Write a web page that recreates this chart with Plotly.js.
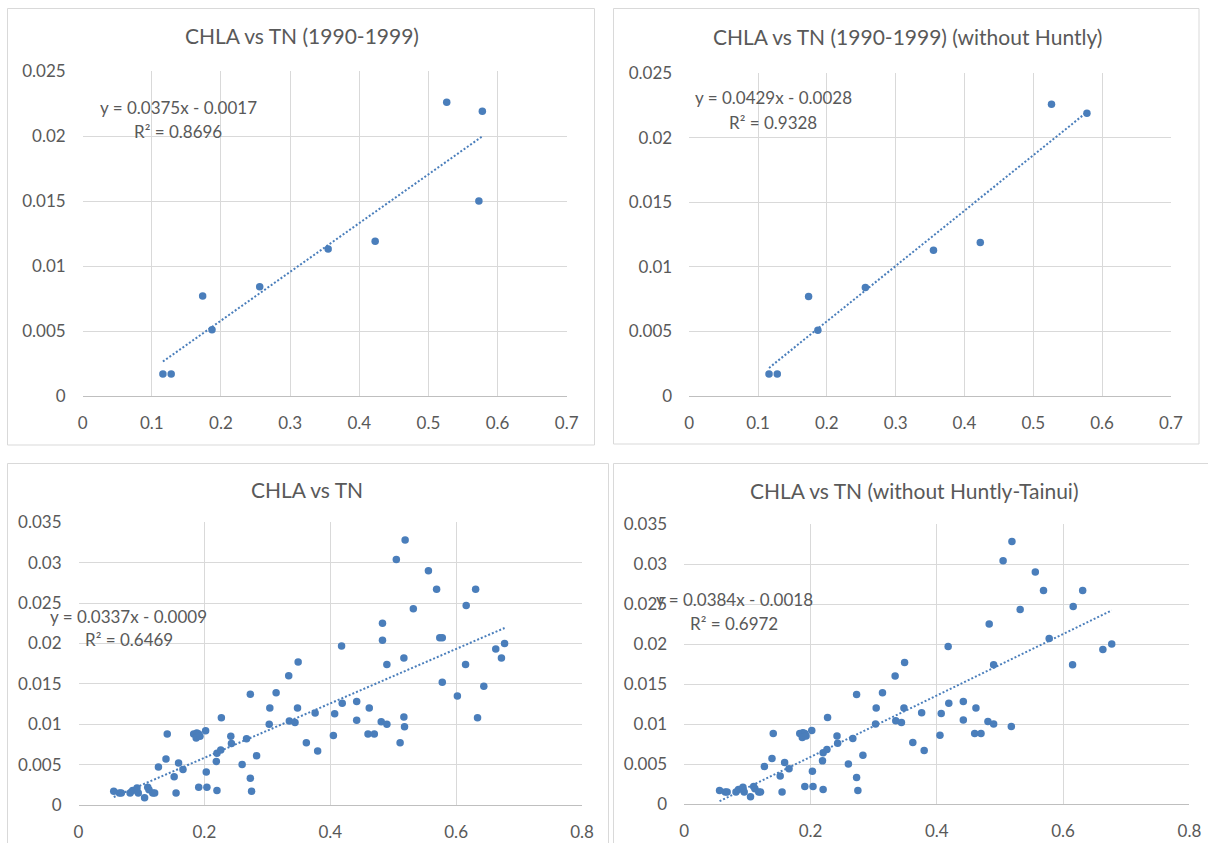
<!DOCTYPE html>
<html>
<head>
<meta charset="utf-8">
<script src="https://cdn.plot.ly/plotly-3.0.1.min.js"></script>
<style>
  html, body { margin: 0; padding: 0; background: #ffffff; }
  #chart { width: 1208px; height: 843px; }
</style>
</head>
<body>
<div id="chart"></div>
<script>
// ---------- DATA ----------
const titles = [
  "CHLA vs TN (1990-1999)",
  "CHLA vs TN (1990-1999) (without Huntly)",
  "CHLA vs TN",
  "CHLA vs TN (without Huntly-Tainui)"
];

// Chart 1: CHLA vs TN (1990-1999)
const tn9099 = [0.116, 0.128, 0.1735, 0.187, 0.256, 0.355, 0.423, 0.5265, 0.578, 0.573];
const chla9099 = [0.0017, 0.0017, 0.0077, 0.0051, 0.0084, 0.0113, 0.0119, 0.0226, 0.0219, 0.0150];

// Chart 2: CHLA vs TN (1990-1999) (without Huntly)
const tn9099NoHuntly = [0.116, 0.128, 0.1735, 0.187, 0.256, 0.355, 0.423, 0.5265, 0.578];
const chla9099NoHuntly = [0.0017, 0.0017, 0.0077, 0.0051, 0.0084, 0.0113, 0.0119, 0.0226, 0.0219];

// Chart 3: CHLA vs TN (all)
const tnAll = [
  0.056, 0.065, 0.068, 0.082, 0.086, 0.093, 0.095, 0.105, 0.110, 0.112,
  0.118, 0.121, 0.127, 0.139, 0.141, 0.152, 0.155, 0.159, 0.166, 0.183,
  0.188, 0.191, 0.187, 0.193, 0.191, 0.202, 0.203, 0.204, 0.219, 0.220,
  0.220, 0.226, 0.227, 0.242, 0.243, 0.260, 0.267, 0.273, 0.273, 0.275,
  0.283, 0.303, 0.304, 0.314, 0.334, 0.335, 0.344, 0.349, 0.348, 0.362,
  0.376, 0.380, 0.405, 0.407, 0.418, 0.419, 0.442, 0.442, 0.462, 0.460,
  0.470, 0.481, 0.483, 0.483, 0.490, 0.490, 0.519, 0.505, 0.556, 0.569,
  0.631, 0.532, 0.616, 0.574, 0.578, 0.517, 0.677, 0.663, 0.672, 0.615,
  0.578, 0.644, 0.602, 0.517, 0.518, 0.511, 0.634
];
const chlaAll = [
  0.0017, 0.0015, 0.0015, 0.0015, 0.0018, 0.0021, 0.0015, 0.0009, 0.0022, 0.0019,
  0.0015, 0.0015, 0.0047, 0.0057, 0.0088, 0.0035, 0.0015, 0.0052, 0.0044, 0.0088,
  0.0089, 0.0088, 0.0083, 0.0085, 0.0022, 0.0092, 0.0041, 0.0022, 0.0054, 0.0018,
  0.0064, 0.0068, 0.0108, 0.0085, 0.0076, 0.0050, 0.0082, 0.0137, 0.0033, 0.0017,
  0.0061, 0.0100, 0.0120, 0.0139, 0.0160, 0.0104, 0.0102, 0.0177, 0.0120, 0.0077,
  0.0114, 0.0067, 0.0086, 0.0113, 0.0197, 0.0126, 0.0128, 0.0105, 0.0120, 0.0088,
  0.0088, 0.0103, 0.0225, 0.0204, 0.0174, 0.0100, 0.0328, 0.0304, 0.0290, 0.0267,
  0.0267, 0.0243, 0.0247, 0.0207, 0.0207, 0.0182, 0.0200, 0.0193, 0.0182, 0.0174,
  0.0152, 0.0147, 0.0135, 0.0109, 0.0097, 0.0077, 0.0108
];

// Chart 4: CHLA vs TN (without Huntly-Tainui)
const tnNoHT = [
  0.056, 0.065, 0.068, 0.082, 0.086, 0.093, 0.095, 0.105, 0.110, 0.112,
  0.118, 0.121, 0.127, 0.139, 0.141, 0.152, 0.155, 0.159, 0.166, 0.183,
  0.188, 0.191, 0.187, 0.193, 0.191, 0.202, 0.203, 0.204, 0.219, 0.220,
  0.220, 0.226, 0.227, 0.242, 0.243, 0.260, 0.267, 0.273, 0.273, 0.275,
  0.283, 0.303, 0.304, 0.314, 0.334, 0.335, 0.344, 0.349, 0.348, 0.362,
  0.376, 0.380, 0.405, 0.407, 0.418, 0.419, 0.442, 0.442, 0.462, 0.460,
  0.470, 0.481, 0.483, 0.490, 0.490, 0.519, 0.505, 0.556, 0.569, 0.631,
  0.532, 0.616, 0.578, 0.677, 0.663, 0.615, 0.518
];
const chlaNoHT = [
  0.0017, 0.0015, 0.0015, 0.0015, 0.0018, 0.0021, 0.0015, 0.0009, 0.0022, 0.0019,
  0.0015, 0.0015, 0.0047, 0.0057, 0.0088, 0.0035, 0.0015, 0.0052, 0.0044, 0.0088,
  0.0089, 0.0088, 0.0083, 0.0085, 0.0022, 0.0092, 0.0041, 0.0022, 0.0054, 0.0018,
  0.0064, 0.0068, 0.0108, 0.0085, 0.0076, 0.0050, 0.0082, 0.0137, 0.0033, 0.0017,
  0.0061, 0.0100, 0.0120, 0.0139, 0.0160, 0.0104, 0.0102, 0.0177, 0.0120, 0.0077,
  0.0114, 0.0067, 0.0086, 0.0113, 0.0197, 0.0126, 0.0128, 0.0105, 0.0120, 0.0088,
  0.0088, 0.0103, 0.0225, 0.0174, 0.0100, 0.0328, 0.0304, 0.0290, 0.0267, 0.0267,
  0.0243, 0.0247, 0.0207, 0.0200, 0.0193, 0.0174, 0.0097
];

// Linear trendlines (from the equations shown)
const slopes = [0.0375, 0.0429, 0.0337, 0.0384];
const intercepts = [-0.0017, -0.0028, -0.0009, -0.0018];
const eqTexts = ["y = 0.0375x - 0.0017", "y = 0.0429x - 0.0028", "y = 0.0337x - 0.0009", "y = 0.0384x - 0.0018"];
const r2Texts = ["R² = 0.8696", "R² = 0.9328", "R² = 0.6469", "R² = 0.6972"];

// Axis settings
const xMax = [0.7, 0.7, 0.8, 0.8];
const xStep = [0.1, 0.1, 0.2, 0.2];
const yMax = [0.025, 0.025, 0.035, 0.035];
const yStep = [0.005, 0.005, 0.005, 0.005];

// ---------- LAYOUT (pixel geometry) ----------
const W = 1208, H = 843;
const px = v => v / W;
const py = v => 1 - v / H;

const plotBoxes = [ // [left, right, top, bottom] in px
  [82.7, 566.7, 71, 396],
  [689.2, 1170.9, 73.3, 396],
  [78.5, 582, 522.3, 805],
  [684.2, 1189.4, 524, 804]
];
const chartBorders = [ // [x0, y0, x1, y1]
  [7.5, 8.5, 594.5, 445],
  [613.5, 8.5, 1199, 444],
  [7.5, 463.5, 608.5, 860],
  [613.5, 463.5, 1230, 860]
];
const titlePos = [[302, 36], [907, 37], [307, 489], [914, 490]];
const eqPos = [[178, 107], [773, 98], [128, 616], [734, 599]];
const r2Pos = [[178, 132], [773, 123], [129, 639], [734, 623]];

const datasets = [
  [tn9099, chla9099],
  [tn9099NoHuntly, chla9099NoHuntly],
  [tnAll, chlaAll],
  [tnNoHT, chlaNoHT]
];

const BLUE = '#4A7EBB';
const TXT = '#595959';
const FONT = 'Lato, "Open Sans", sans-serif';

const traces = [];
const layout = {
  width: W, height: H,
  margin: {l: 0, r: 0, t: 0, b: 0},
  paper_bgcolor: '#ffffff',
  plot_bgcolor: '#ffffff',
  showlegend: false,
  font: {family: FONT, color: TXT},
  shapes: [],
  annotations: []
};

datasets.forEach((d, i) => {
  const n = i + 1;
  const xa = n === 1 ? 'x' : 'x' + n;
  const ya = n === 1 ? 'y' : 'y' + n;
  const [tn, chla] = d;

  traces.push({
    type: 'scatter', mode: 'markers', x: tn, y: chla,
    xaxis: xa, yaxis: ya, cliponaxis: false,
    marker: {color: BLUE, size: 7.5, line: {width: 0}},
    hoverinfo: 'x+y'
  });

  const xmin = Math.min(...tn), xmax = Math.max(...tn);
  traces.push({
    type: 'scatter', mode: 'lines',
    x: [xmin, xmax],
    y: [slopes[i] * xmin + intercepts[i], slopes[i] * xmax + intercepts[i]],
    xaxis: xa, yaxis: ya, cliponaxis: false,
    line: {color: BLUE, width: 2, dash: '2px,2px'},
    hoverinfo: 'skip'
  });

  const b = plotBoxes[i];
  const axisFont = {family: FONT, size: 17, color: TXT};
  layout['xaxis' + (n === 1 ? '' : n)] = {
    domain: [px(b[0]), px(b[1])],
    anchor: ya,
    range: [0, xMax[i] * 1.00001],
    tick0: 0, dtick: xStep[i],
    showgrid: true, gridcolor: '#d9d9d9', gridwidth: 1,
    zeroline: false,
    showline: true, linecolor: '#bfbfbf', linewidth: 1,
    ticks: '', tickfont: axisFont, ticklabelstandoff: 12,
    fixedrange: true
  };
  layout['yaxis' + (n === 1 ? '' : n)] = {
    domain: [py(b[3]), py(b[2])],
    anchor: xa,
    range: [0, yMax[i] * 1.00001],
    tick0: 0, dtick: yStep[i],
    showgrid: true, gridcolor: '#d9d9d9', gridwidth: 1,
    zeroline: false, showline: false,
    ticks: '', tickfont: axisFont, ticklabelstandoff: 16,
    fixedrange: true
  };

  const cb = chartBorders[i];
  layout.shapes.push({
    type: 'rect', xref: 'paper', yref: 'paper',
    x0: px(cb[0]), x1: px(cb[2]), y0: py(cb[3]), y1: py(cb[1]),
    line: {color: '#d9d9d9', width: 1}, fillcolor: 'rgba(0,0,0,0)', layer: 'below'
  });

  layout.annotations.push({
    xref: 'paper', yref: 'paper', x: px(titlePos[i][0]), y: py(titlePos[i][1]),
    xanchor: 'center', yanchor: 'middle', showarrow: false,
    text: titles[i], font: {family: FONT, size: 21, color: TXT}
  });
  layout.annotations.push({
    xref: 'paper', yref: 'paper', x: px(eqPos[i][0]), y: py(eqPos[i][1]),
    xanchor: 'center', yanchor: 'middle', showarrow: false,
    text: eqTexts[i], font: {family: FONT, size: 17, color: TXT}
  });
  layout.annotations.push({
    xref: 'paper', yref: 'paper', x: px(r2Pos[i][0]), y: py(r2Pos[i][1]),
    xanchor: 'center', yanchor: 'middle', showarrow: false,
    text: r2Texts[i], font: {family: FONT, size: 17, color: TXT}
  });
});

Plotly.newPlot('chart', traces, layout, {staticPlot: true, displayModeBar: false});
</script>
</body>
</html>
